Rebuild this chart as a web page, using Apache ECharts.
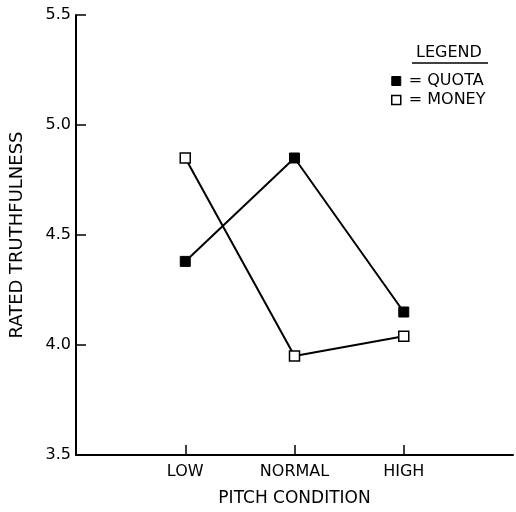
<!DOCTYPE html>
<html>
<head>
<meta charset="utf-8">
<script src="https://cdn.jsdelivr.net/npm/echarts@6/dist/echarts.min.js"></script>
<style>
  html, body { margin: 0; padding: 0; background: #fff; }
  #chart { width: 516px; height: 512px; }
</style>
</head>
<body>
<div id="chart"></div>
<script>
// categories on the x axis (blank slots at both ends)
var categories = ['', 'LOW', 'NORMAL', 'HIGH', '']
// rated truthfulness per condition
var quota = [null, 4.38, 4.85, 4.15, null]
var money = [null, 4.85, 3.95, 4.04, null]
var yTicks = [3.5, 4.0, 4.5, 5.0, 5.5]

var chart = echarts.init(document.getElementById('chart'))
var font = 'DejaVu Sans, sans-serif'

var option = {
  animation: false,
  grid: { left: 75, right: 0, top: 15, bottom: 57 },
  legend: {
    orient: 'vertical',
    left: 386,
    top: 68,
    itemWidth: 9,
    itemHeight: 9,
    itemGap: 3,
    selectedMode: false,
    formatter: '= {name}',
    textStyle: { fontFamily: font, fontSize: 16, lineHeight: 16, color: '#000', padding: [0, 0, 0, 3] },
    data: [
      { name: 'QUOTA', icon: 'rect', itemStyle: { color: '#000', borderColor: '#000', borderWidth: 1 } },
      { name: 'MONEY', icon: 'rect', itemStyle: { color: '#fff', borderColor: '#000', borderWidth: 1.5 } }
    ]
  },
  graphic: [
    {
      type: 'text', left: 416, top: 45,
      style: { text: 'LEGEND', font: '16px ' + font, fill: '#000' }
    },
    {
      type: 'line', shape: { x1: 412, y1: 63, x2: 488, y2: 63 },
      style: { stroke: '#000', lineWidth: 1.5 }
    }
  ],
  xAxis: {
    type: 'category',
    data: categories,
    boundaryGap: false,
    name: 'PITCH CONDITION',
    nameLocation: 'middle',
    nameGap: 35,
    nameTextStyle: { fontFamily: font, fontSize: 17, color: '#000' },
    axisLine: { lineStyle: { color: '#000', width: 2 } },
    axisTick: {
      inside: false, length: -10, lineStyle: { color: '#000', width: 1.5 },
      interval: function (i, v) { return v !== '' }
    },
    axisLabel: { fontFamily: font, fontSize: 16, color: '#000', margin: 9 },
    splitLine: { show: false }
  },
  yAxis: {
    type: 'value',
    min: 3.5,
    max: 5.5,
    interval: 0.5,
    name: 'RATED TRUTHFULNESS',
    nameLocation: 'middle',
    nameGap: 50,
    nameTextStyle: { fontFamily: font, fontSize: 18, color: '#000' },
    axisLine: { show: true, lineStyle: { color: '#000', width: 2 } },
    axisTick: { show: true, inside: false, length: -10, lineStyle: { color: '#000', width: 1.5 } },
    axisLabel: {
      fontFamily: font, fontSize: 16, color: '#000', margin: 5,
      formatter: function (v) { return yTicks.indexOf(v) >= 0 ? v.toFixed(1) : '' }
    },
    splitLine: { show: false }
  },
  series: [
    {
      name: 'QUOTA',
      type: 'line',
      data: quota,
      symbol: 'rect',
      symbolSize: 10,
      lineStyle: { color: '#000', width: 2 },
      itemStyle: { color: '#000', borderColor: '#000', borderWidth: 1 },
      z: 3
    },
    {
      name: 'MONEY',
      type: 'line',
      data: money,
      symbol: 'rect',
      symbolSize: 10,
      lineStyle: { color: '#000', width: 2 },
      itemStyle: { color: '#fff', borderColor: '#000', borderWidth: 1.5 },
      z: 3
    }
  ]
}
chart.setOption(option)
</script>
</body>
</html>
